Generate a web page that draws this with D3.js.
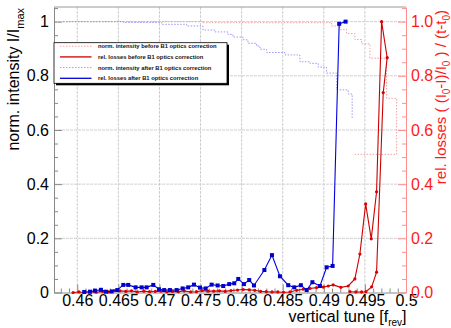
<!DOCTYPE html>
<html>
<head>
<meta charset="utf-8">
<script src="https://cdn.jsdelivr.net/npm/d3@7"></script>
<style>
  html, body { margin: 0; padding: 0; background: #fff; }
  svg { display: block; font-family: 'Liberation Sans', Arial, Helvetica, sans-serif; }
</style>
</head>
<body>
<div id="chart"></div>
<script>
// tick values
const xTicks = [0.46, 0.465, 0.47, 0.475, 0.48, 0.485, 0.49, 0.495, 0.5]
const xMinorTicks = [0.458, 0.459, 0.461, 0.462, 0.463, 0.464, 0.466, 0.467, 0.468, 0.469, 0.471, 0.472, 0.473, 0.474,
  0.476, 0.477, 0.478, 0.479, 0.481, 0.482, 0.483, 0.484, 0.486, 0.487, 0.488, 0.489, 0.491, 0.492, 0.493, 0.494,
  0.496, 0.497, 0.498, 0.499]
const yTicks = [0, 0.2, 0.4, 0.6, 0.8, 1]
const yMinorTicks = [0.05, 0.1, 0.15, 0.25, 0.3, 0.35, 0.45, 0.5, 0.55, 0.65, 0.7, 0.75, 0.85, 0.9, 0.95, 1.05]
const yLeftLabels = ['0', '0.2', '0.4', '0.6', '0.8', '1']
const yRightLabels = ['0.0', '0.2', '0.4', '0.6', '0.8', '1.0']

// rel. losses after B1 optics correction (blue, squares)
const lossAfterTune = [0.46085, 0.46155, 0.46215, 0.46288, 0.46349, 0.46418, 0.46487, 0.4656, 0.4662, 0.4671,
  0.46783, 0.46844, 0.46925, 0.46994, 0.47058, 0.47128, 0.47209, 0.47282, 0.4735, 0.4742, 0.47493, 0.47562,
  0.47635, 0.47708, 0.47776, 0.47849, 0.4791, 0.47959, 0.48028, 0.48092, 0.4815, 0.48277, 0.48369, 0.48466,
  0.48567, 0.4864, 0.48721, 0.48791, 0.48861, 0.48953, 0.49034, 0.49107, 0.49187, 0.49265]
const lossAfterVal = [0.002, 0.003, 0.007, 0.010, 0.003, 0.004, 0.009, 0.028, 0.028, 0.019,
  0.019, 0.019, 0.028, 0.012, 0.009, 0.009, 0.009, 0.015, 0.019, 0.029, 0.018, 0.015,
  0.029, 0.026, 0.024, 0.031, 0.034, 0.05, 0.031, 0.046, 0.026, 0.083, 0.138, 0.06,
  0.027, 0.019, 0.027, 0.009, 0.038, 0.024, 0.093, 0.098, 0.992, 1.0]

// rel. losses before B1 optics correction (red, circles)
const lossBeforeTune = [0.4595, 0.4602, 0.4609, 0.4616, 0.4623, 0.4631, 0.4638, 0.4645, 0.4652, 0.4659,
  0.4666, 0.4673, 0.4681, 0.4688, 0.4695, 0.4702, 0.4709, 0.4716, 0.4723, 0.473, 0.4738, 0.4745, 0.4752,
  0.4759, 0.4766, 0.4773, 0.478, 0.4787, 0.4795, 0.4802, 0.4809, 0.4816, 0.4823, 0.483, 0.4837, 0.4844,
  0.4851, 0.48588, 0.48669, 0.48749, 0.48831, 0.48912, 0.48993, 0.49054, 0.49114, 0.49208, 0.49297,
  0.49378, 0.49439, 0.49509, 0.49577, 0.49642, 0.49703, 0.49771, 0.49723, 0.49642, 0.49582, 0.49512,
  0.4946, 0.4939, 0.49318]
const lossBeforeVal = [0.0, 0.002, 0.0, 0.003, 0.001, 0.004, 0.002, 0.007, 0.006, 0.004,
  0.006, 0.002, 0.005, 0.003, 0.004, 0.005, 0.002, 0.004, 0.003, 0.006, 0.002, 0.003, 0.007,
  0.005, 0.005, 0.006, 0.004, 0.007, 0.009, 0.011, 0.01, 0.008, 0.004, 0.003, 0.002, 0.002,
  0.001, 0.002, 0.008, 0.012, 0.015, 0.018, 0.02, 0.024, 0.028, 0.019, 0.024,
  0.05, 0.142, 0.327, 0.198, 0.372, 1.0, 0.867, 0.738, 0.075, 0.021, 0.003,
  0.002, 0.002, 0.003]

// norm. intensity before B1 optics correction (light red, dotted steps)
const intBeforeTune = [0.45826, 0.47529, 0.49095, 0.49196, 0.49277, 0.49378, 0.4946, 0.49561, 0.49764, 0.49886, 0.49378]
const intBeforeVal = [1.0, 0.996, 0.984, 0.971, 0.956, 0.934, 0.918, 0.865, 0.717, 0.51, 0.51]

// norm. intensity after B1 optics correction (light blue, dotted steps)
const intAfterTune = [0.45826, 0.4656, 0.47027, 0.47331, 0.47529, 0.47675, 0.47833, 0.47894, 0.48016, 0.48077,
  0.48182, 0.48223, 0.48304, 0.48527, 0.48709, 0.48831, 0.48932, 0.49034, 0.49156, 0.49297, 0.49345]
const intAfterVal = [1.0, 0.997, 0.99, 0.984, 0.969, 0.962, 0.953, 0.943, 0.933, 0.92,
  0.91, 0.898, 0.886, 0.877, 0.852, 0.846, 0.832, 0.81, 0.748, 0.733, 0.643]

const legendItems = [
  { label: 'norm. intensity before B1 optics correction', color: '#f4a0a0', dash: '1.5,1.5' },
  { label: 'rel. losses before B1 optics correction', color: '#cc0000', dash: null },
  { label: 'norm. intensity after B1 optics correction', color: '#9a9af4', dash: '1.5,1.5' },
  { label: 'rel. losses after B1 optics correction', color: '#0000dd', dash: null },
]

const width = 451
const height = 328
const dims = { left: 54, right: 406, top: 7, bottom: 292.5 }

const svg = d3.select('#chart').append('svg').attr('width', width).attr('height', height)
svg.append('rect').attr('width', width).attr('height', height).attr('fill', '#fff')

const xScale = d3.scaleLinear().domain([0.45717, 0.5]).range([dims.left, dims.right])
const yScale = d3.scaleLinear().domain([0, 1.054]).range([dims.bottom, dims.top])

// grid
const grid = svg.append('g').attr('stroke', '#cfcfcf').attr('stroke-width', 1).attr('stroke-dasharray', '3,1')
grid.selectAll('.vg').data(xTicks.slice(0, -1)).join('line')
  .attr('x1', (d) => xScale(d)).attr('x2', (d) => xScale(d))
  .attr('y1', dims.top).attr('y2', dims.bottom)
grid.selectAll('.hg').data(yTicks.slice(1)).join('line')
  .attr('x1', dims.left).attr('x2', dims.right)
  .attr('y1', (d) => yScale(d)).attr('y2', (d) => yScale(d))

// frame top
svg.append('line').attr('x1', dims.left).attr('x2', dims.right).attr('y1', dims.top).attr('y2', dims.top)
  .attr('stroke', '#999')

// bottom axis
const xAxis = svg.append('g')
  .attr('transform', `translate(0,${dims.bottom})`)
  .call(d3.axisBottom(xScale).tickValues(xTicks).tickSizeInner(-8).tickSizeOuter(0).tickPadding(2).tickFormat((d) => String(d)))
xAxis.select('.domain').attr('stroke', '#888')
xAxis.selectAll('.tick line').attr('stroke', '#888')
xAxis.selectAll('.tick text').attr('font-size', 16).attr('fill', '#000')
svg.append('g')
  .attr('transform', `translate(0,${dims.bottom})`)
  .call(d3.axisBottom(xScale).tickValues(xMinorTicks).tickSize(-4).tickFormat(''))
  .call((g) => g.select('.domain').remove())
  .call((g) => g.selectAll('.tick line').attr('stroke', '#888'))

// left axis
const yAxis = svg.append('g')
  .attr('transform', `translate(${dims.left},0)`)
  .call(d3.axisLeft(yScale).tickValues(yTicks).tickSizeInner(-8).tickSizeOuter(0).tickPadding(5)
    .tickFormat((d, i) => yLeftLabels[i]))
yAxis.select('.domain').attr('stroke', '#888')
yAxis.selectAll('.tick line').attr('stroke', '#888')
yAxis.selectAll('.tick text').attr('font-size', 16).attr('fill', '#000')
svg.append('g')
  .attr('transform', `translate(${dims.left},0)`)
  .call(d3.axisLeft(yScale).tickValues(yMinorTicks).tickSize(-4).tickFormat(''))
  .call((g) => g.select('.domain').remove())
  .call((g) => g.selectAll('.tick line').attr('stroke', '#888'))

// right axis (red)
const yAxisR = svg.append('g')
  .attr('transform', `translate(${dims.right},0)`)
  .call(d3.axisRight(yScale).tickValues(yTicks).tickSizeInner(-8).tickSizeOuter(0).tickPadding(5)
    .tickFormat((d, i) => yRightLabels[i]))
yAxisR.select('.domain').attr('stroke', '#ff9090')
yAxisR.selectAll('.tick line').attr('stroke', '#ff9090')
yAxisR.selectAll('.tick text').attr('font-size', 16).attr('fill', '#ff1a1a')
svg.append('g')
  .attr('transform', `translate(${dims.right},0)`)
  .call(d3.axisRight(yScale).tickValues(yMinorTicks).tickSize(-4).tickFormat(''))
  .call((g) => g.select('.domain').remove())
  .call((g) => g.selectAll('.tick line').attr('stroke', '#ff9090'))

// Draw data
const toPoints = (xs, ys) => xs.map((t, i) => [t, ys[i]])

const stepLine = d3.line().x((d) => xScale(d[0])).y((d) => yScale(d[1])).curve(d3.curveStepAfter)
const plainLine = d3.line().x((d) => xScale(d[0])).y((d) => yScale(d[1]))

svg.append('path').datum(toPoints(intBeforeTune, intBeforeVal))
  .attr('d', stepLine).attr('fill', 'none').attr('stroke', '#f4a0a0').attr('stroke-width', 1).attr('stroke-dasharray', '1.5,1.5')
svg.append('path').datum(toPoints(intAfterTune, intAfterVal))
  .attr('d', stepLine).attr('fill', 'none').attr('stroke', '#9a9af4').attr('stroke-width', 1).attr('stroke-dasharray', '1.5,1.5')

const before = toPoints(lossBeforeTune, lossBeforeVal)
svg.append('path').datum(before)
  .attr('d', plainLine).attr('fill', 'none').attr('stroke', '#cc0000').attr('stroke-width', 1.1)
svg.append('g').selectAll('circle').data(before).join('circle')
  .attr('cx', (d) => xScale(d[0])).attr('cy', (d) => yScale(d[1])).attr('r', 1.6).attr('fill', '#dd0000')

const after = toPoints(lossAfterTune, lossAfterVal)
svg.append('path').datum(after)
  .attr('d', plainLine).attr('fill', 'none').attr('stroke', '#0000dd').attr('stroke-width', 1.1)
svg.append('g').selectAll('rect').data(after).join('rect')
  .attr('x', (d) => xScale(d[0]) - 2).attr('y', (d) => yScale(d[1]) - 2)
  .attr('width', 4).attr('height', 4).attr('fill', '#0000cc')

// legend
const legend = svg.append('g').attr('transform', 'translate(54,42.7)')
legend.append('rect').attr('x', 2).attr('y', 2).attr('width', 173).attr('height', 40.6).attr('fill', '#000')
legend.append('rect').attr('width', 173).attr('height', 40.6).attr('fill', '#fff').attr('stroke', '#000').attr('stroke-width', 0.8)
const rows = legend.selectAll('.row').data(legendItems).join('g')
  .attr('transform', (d, i) => `translate(0,${3.5 + i * 10.7})`)
rows.append('line').attr('x1', 6).attr('x2', 37.5).attr('y1', 0).attr('y2', 0)
  .attr('stroke', (d) => d.color).attr('stroke-width', (d) => (d.dash ? 1 : 1.3))
  .attr('stroke-dasharray', (d) => d.dash)
rows.append('text').attr('x', 44).attr('y', 2.1).attr('font-size', 5.8).attr('font-weight', 'bold')
  .attr('fill', '#111').text((d) => d.label)

// axis titles
const xTitle = svg.append('text').attr('x', 406.5).attr('y', 322).attr('text-anchor', 'end').attr('font-size', 16)
xTitle.append('tspan').text('vertical tune [f')
xTitle.append('tspan').attr('font-size', 10).attr('dy', 3.5).text('rev')
xTitle.append('tspan').attr('dy', -3.5).text(']')

const yTitle = svg.append('text').attr('transform', 'translate(18.5,8) rotate(-90)')
  .attr('text-anchor', 'end').attr('font-size', 16)
yTitle.append('tspan').text('norm. intensity I/I')
yTitle.append('tspan').attr('font-size', 11).attr('dy', 5).text('max')

const rTitle = svg.append('text').attr('transform', 'translate(446,10) rotate(-90)')
  .attr('text-anchor', 'end').attr('font-size', 15).attr('fill', '#ff1a1a')
rTitle.append('tspan').text('rel. losses  ( (I')
rTitle.append('tspan').attr('font-size', 10).attr('dy', 4).text('0')
rTitle.append('tspan').attr('dy', -4).text('-I)/I')
rTitle.append('tspan').attr('font-size', 10).attr('dy', 4).text('0')
rTitle.append('tspan').attr('dy', -4).text(' ) / (t-t')
rTitle.append('tspan').attr('font-size', 10).attr('dy', 4).text('0')
rTitle.append('tspan').attr('dy', -4).text(')')
</script>
</body>
</html>
